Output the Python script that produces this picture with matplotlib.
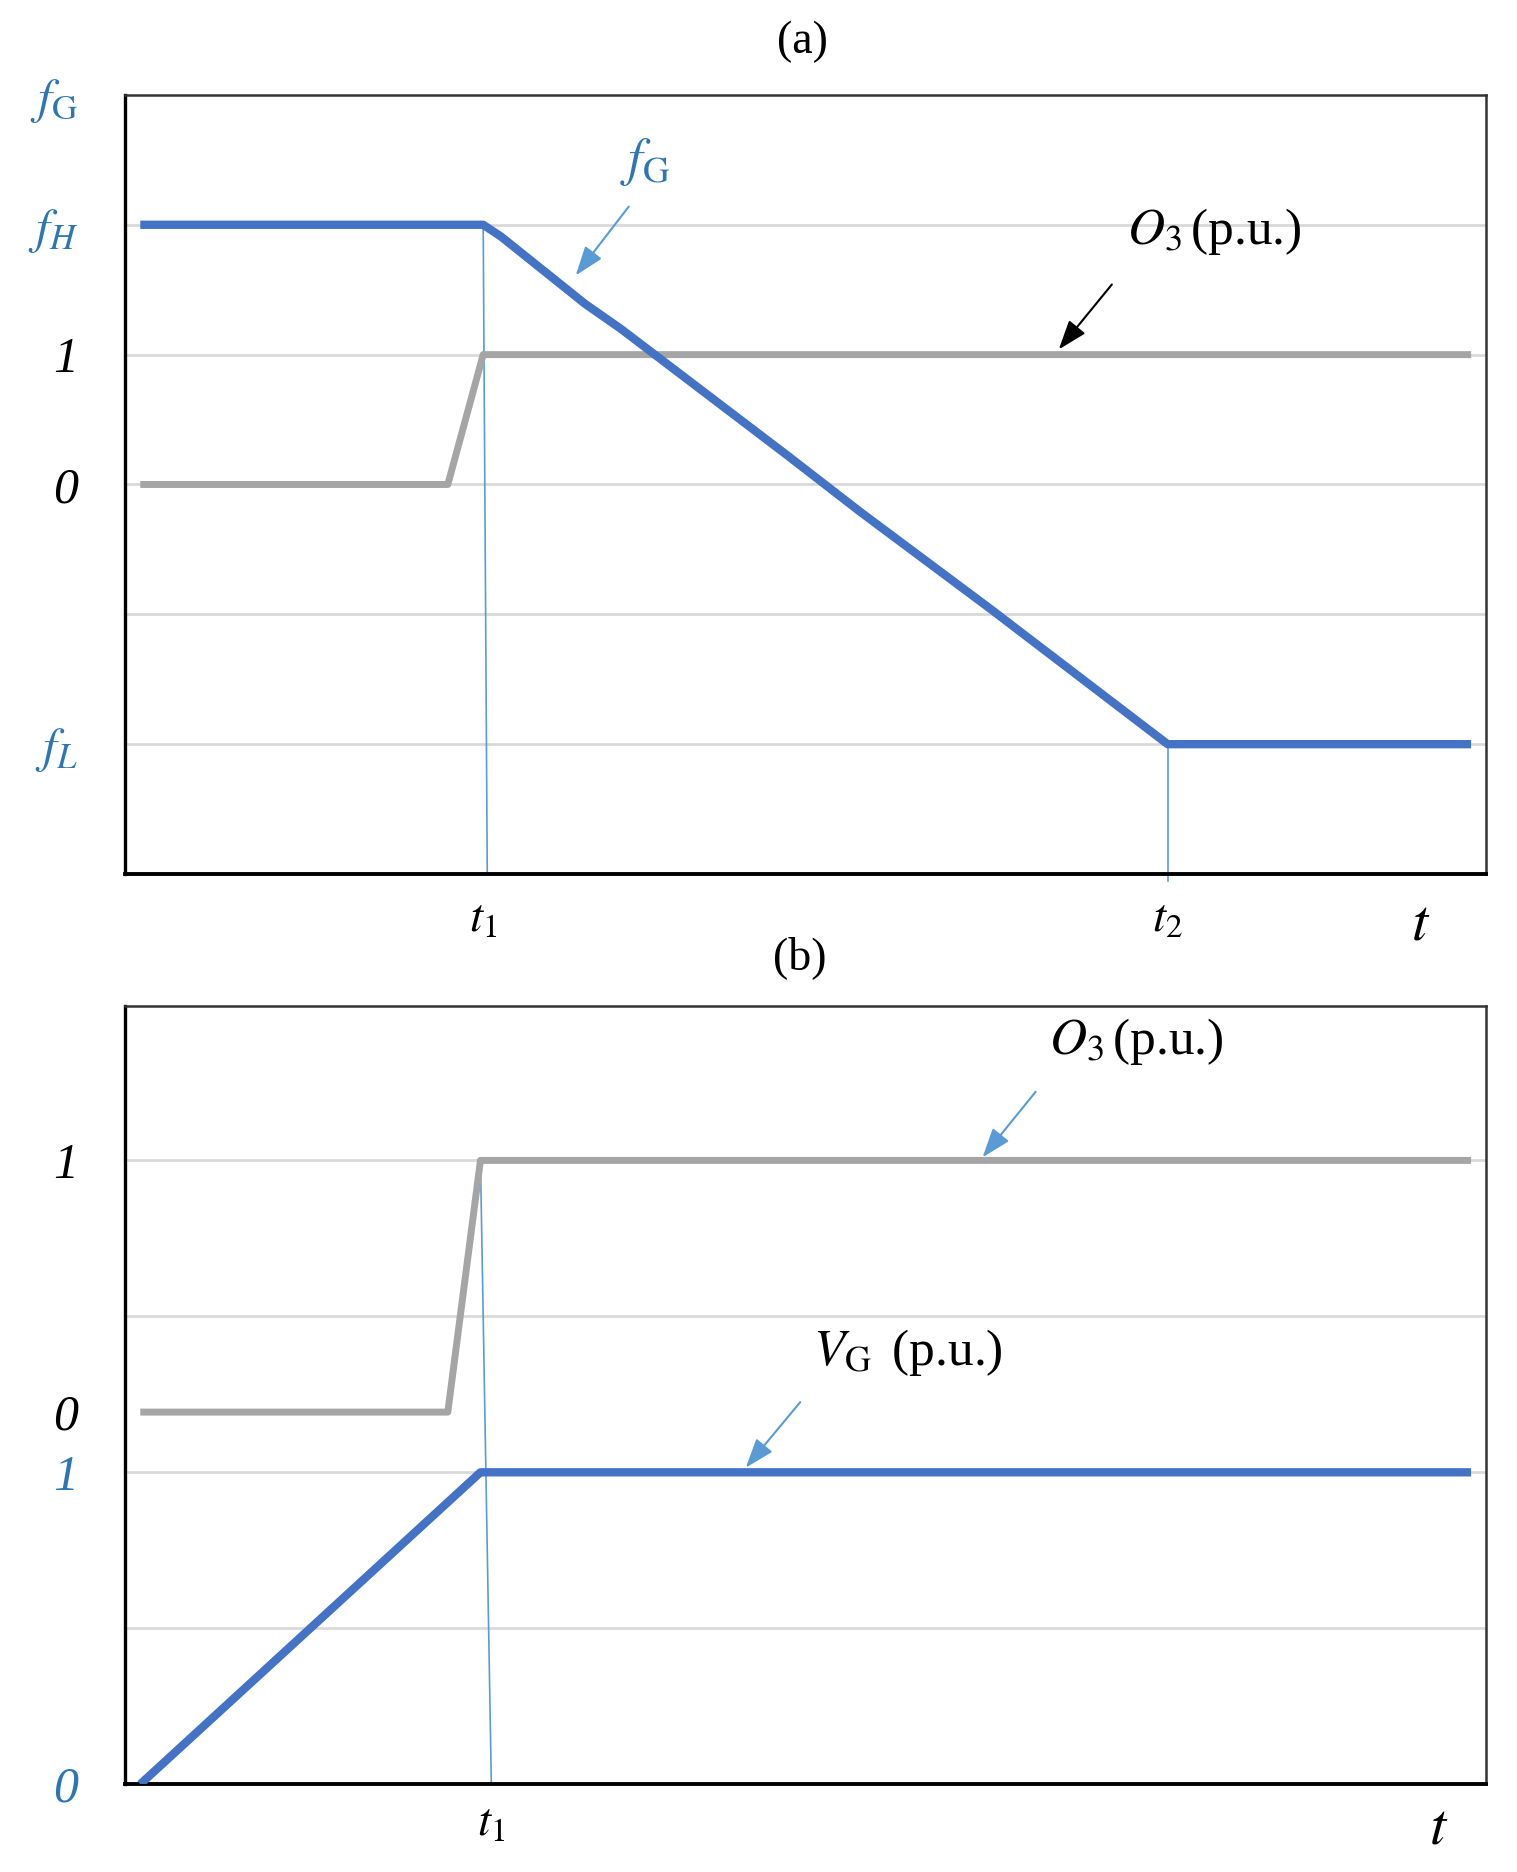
import matplotlib
matplotlib.use("Agg")
import matplotlib.pyplot as plt

plt.rcParams["font.family"] = "serif"
plt.rcParams["font.serif"] = ["Liberation Serif", "DejaVu Serif"]
plt.rcParams["mathtext.fontset"] = "stix"

BLUE_LINE = "#4472C4"
GREY_LINE = "#A5A5A5"
GRID      = "#D9D9D9"
MARK_BLUE = "#5B9BD5"
TEXT_BLUE = "#2E75B6"

# ── panel (a) data: time in arbitrary units, level in grid units ───────────
a_fg_t  = [1.1, 26.3, 27.6, 33.8, 36.4, 48.7, 54.0, 63.6, 76.6, 98.9]
a_fg_y  = [5.0, 5.0, 4.91, 4.39, 4.20, 3.22, 2.79, 2.04, 1.0, 1.0]
a_o3_t  = [1.1, 23.7, 26.3, 98.9]
a_o3_y  = [3.0, 3.0, 4.0, 4.0]
a_yticks = [6, 5, 4, 3, 1]
a_ylabels = [r"$f_{\mathrm{G}}$", r"$f_{H}$", "1", "0", r"$f_{L}$"]
a_ycolors = [TEXT_BLUE, TEXT_BLUE, "black", "black", TEXT_BLUE]
a_xticks = [26.3, 76.6, 95.2]
a_xlabels = [r"$t_1$", r"$t_2$", r"$t$"]

# ── panel (b) data ───────────────────────────────────────────────────────────
b_o3_t  = [1.1, 23.7, 26.1, 98.9]
b_o3_y  = [2.386, 2.386, 4.0, 4.0]
b_vg_t  = [1.1, 26.1, 98.9]
b_vg_y  = [0.0, 2.0, 2.0]
b_yticks = [4, 2.386, 2, 0]
b_ylabels = ["1", "0", "1", "0"]
b_ycolors = ["black", "black", TEXT_BLUE, TEXT_BLUE]
b_xticks = [26.9, 96.5]
b_xlabels = [r"$t_1$", r"$t$"]


def style_axes(ax, ymax, yticks, ylabels, ycolors, xticks, xlabels, xpad):
    ax.set_xlim(0, 100)
    ax.set_ylim(0, ymax)
    for g in range(1, int(ymax) + 1):
        ax.axhline(g, color=GRID, linewidth=2.0, zorder=0)
    ax.set_yticks(yticks)
    ax.set_yticklabels(ylabels, fontsize=36, fontstyle="italic")
    for lab, c in zip(ax.get_yticklabels(), ycolors):
        lab.set_color(c)
    ax.set_xticks(xticks)
    ax.set_xticklabels(xlabels, fontsize=34)
    ax.get_xticklabels()[-1].set_fontsize(42)
    ax.tick_params(axis="y", length=0, pad=34)
    ax.tick_params(axis="x", length=0, pad=xpad)
    ax.spines["left"].set_linewidth(2.4)
    ax.spines["bottom"].set_linewidth(2.8)
    ax.spines["left"].set_color("black")
    ax.spines["bottom"].set_color("black")
    for s in ("top", "right"):
        ax.spines[s].set_linewidth(1.8)
        ax.spines[s].set_color("#333333")


def arrow(ax, start, end, color):
    ax.annotate("", xy=end, xytext=start,
                arrowprops=dict(arrowstyle="-|>,head_length=0.9,head_width=0.32",
                                color=color, lw=1.5, mutation_scale=20,
                                shrinkA=0, shrinkB=0))


fig = plt.figure(figsize=(15.17, 18.72), dpi=100)
fig.patch.set_facecolor("white")

ax_a = fig.add_axes([0.0826, 0.5331, 0.8970, 0.4162])
ax_b = fig.add_axes([0.0826, 0.0469, 0.8970, 0.4157])

# ── Panel (a) ───────────────────────────────────────────────────────────────
style_axes(ax_a, 5.98, a_yticks, a_ylabels, a_ycolors, a_xticks, a_xlabels, 18)
ax_a.plot([26.3, 26.6], [5.0, 0.0], color=MARK_BLUE, linewidth=1.2, zorder=2)
ax_a.plot([76.6, 76.6], [1.0, -0.05], color=MARK_BLUE, linewidth=1.2,
          zorder=2, clip_on=False)
ax_a.plot(a_o3_t, a_o3_y, color=GREY_LINE, linewidth=5, solid_capstyle="butt", zorder=3)
ax_a.plot(a_fg_t, a_fg_y, color=BLUE_LINE, linewidth=6, solid_capstyle="butt",
          solid_joinstyle="round", zorder=4)

ax_a.text(38.2, 5.48, r"$f_{\mathrm{G}}$", color=TEXT_BLUE, fontsize=38,
          ha="center", va="center")
arrow(ax_a, (37.0, 5.14), (33.1, 4.61), MARK_BLUE)
ax_a.text(80.0, 4.95, r"$O_3\,$(p.u.)", color="black", fontsize=37,
          ha="center", va="center")
arrow(ax_a, (72.5, 4.54), (68.6, 4.04), "black")

# ── Panel (b) ───────────────────────────────────────────────────────────────
style_axes(ax_b, 4.99, b_yticks, b_ylabels, b_ycolors, b_xticks, b_xlabels, 14)
ax_b.plot([26.1, 26.9], [4.0, 0.0], color=MARK_BLUE, linewidth=1.2, zorder=2)
ax_b.plot(b_o3_t, b_o3_y, color=GREY_LINE, linewidth=5, solid_capstyle="butt", zorder=3)
ax_b.plot(b_vg_t, b_vg_y, color=BLUE_LINE, linewidth=6, solid_capstyle="butt", zorder=4)

ax_b.text(74.3, 4.76, r"$O_3\,$(p.u.)", color="black", fontsize=37,
          ha="center", va="center")
arrow(ax_b, (66.9, 4.44), (63.0, 4.02), MARK_BLUE)
ax_b.text(57.5, 2.77, r"$V_{\mathrm{G}}\,$ (p.u.)", color="black", fontsize=37,
          ha="center", va="center")
arrow(ax_b, (49.6, 2.45), (45.6, 2.03), MARK_BLUE)

fig.text(0.5287, 0.9775, "(a)", fontsize=33, ha="center", va="center")
fig.text(0.5274, 0.4883, "(b)", fontsize=33, ha="center", va="center")

fig.savefig("out.png", dpi=100, facecolor="white")
